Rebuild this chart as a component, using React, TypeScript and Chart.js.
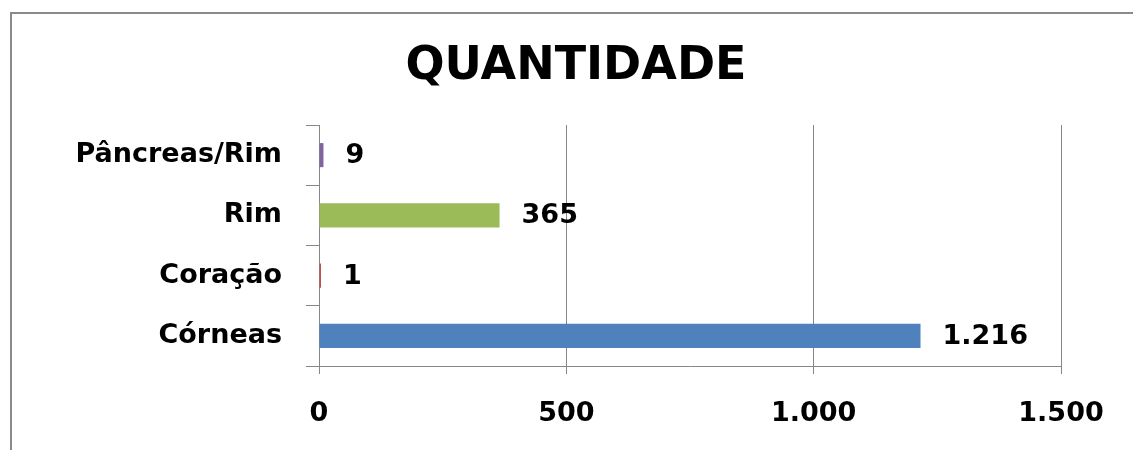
import React, { useEffect, useRef } from "react";
import { Chart, registerables } from "chart.js";

Chart.register(...registerables);

const categories = ["Córneas", "Coração", "Rim", "Pâncreas/Rim"];
const values = [1216, 1, 365, 9];
const barColors = ["#4F81BD", "#C0504D", "#9BBB59", "#8064A2"];
const titleText = "QUANTIDADE";
const xMin = 0;
const xMax = 1500;
const xStep = 500;

const FONT = "'DejaVu Sans', sans-serif";

function fmt(v: number): string {
  const s = Math.round(v).toString();
  return s.replace(/\B(?=(\d{3})+(?!\d))/g, ".");
}

const valueLabels = {
  id: "valueLabels",
  afterDatasetsDraw(chart: any) {
    const ctx = chart.ctx;
    const meta = chart.getDatasetMeta(0);
    ctx.save();
    ctx.font = `bold 27px ${FONT}`;
    ctx.fillStyle = "#000";
    ctx.textAlign = "left";
    ctx.textBaseline = "middle";
    meta.data.forEach((bar: any, i: number) => {
      ctx.fillText(fmt(values[i]), bar.x + 22, bar.y + 1);
    });
    ctx.restore();
  },
};

const centeredTitle = {
  id: "centeredTitle",
  afterDraw(chart: any) {
    const ctx = chart.ctx;
    ctx.save();
    ctx.font = `bold 46px ${FONT}`;
    ctx.fillStyle = "#000";
    ctx.textAlign = "center";
    ctx.textBaseline = "alphabetic";
    ctx.fillText(titleText, 576, 79);
    ctx.restore();
  },
};

export default function App() {
  const ref = useRef<HTMLCanvasElement | null>(null);
  useEffect(() => {
    if (!ref.current) return;
    const chart = new Chart(ref.current, {
      type: "bar",
      data: {
        labels: categories,
        datasets: [
          {
            data: values,
            backgroundColor: barColors,
            borderWidth: 0,
            barPercentage: 0.8,
            categoryPercentage: 0.5,
            minBarLength: 2,
          },
        ],
      },
      options: {
        indexAxis: "y",
        animation: false,
        responsive: false,
        maintainAspectRatio: false,
        layout: { padding: { left: 0, right: 72, top: 125, bottom: 0 } },
        plugins: {
          legend: { display: false },
          tooltip: { enabled: false },
          title: { display: false },
        },
        scales: {
          x: {
            min: xMin,
            max: xMax,
            ticks: {
              stepSize: xStep,
              color: "#000",
              font: { family: FONT, size: 27, weight: "bold" },
              padding: 24,
              maxRotation: 0,
              callback: (v: any) => fmt(Number(v)),
            },
            grid: {
              color: "#878787",
              lineWidth: 1,
              tickLength: 8,
              drawTicks: true,
            },
            border: { color: "#878787", width: 1 },
            afterFit: (s: any) => {
              s.height = 84;
            },
          },
          y: {
            reverse: true,
            ticks: {
              color: "#000",
              font: { family: FONT, size: 27, weight: "bold" },
              padding: 24,
            },
            grid: {
              drawOnChartArea: false,
              drawTicks: true,
              tickLength: 13,
              color: "#878787",
              offset: true,
            },
            border: { color: "#878787", width: 1 },
            afterFit: (s: any) => {
              s.width = 319;
            },
          },
        },
      },
      plugins: [valueLabels, centeredTitle],
    });
    return () => chart.destroy();
  }, []);

  return (
    <div style={{ position: "fixed", left: 0, top: 0, width: 1133, height: 450, background: "#fff", overflow: "hidden" }}>
      <div
        style={{
          position: "absolute",
          left: 10,
          top: 12,
          width: 1200,
          height: 500,
          border: "2px solid #8a8a8a",
          boxSizing: "border-box",
        }}
      />
      <canvas ref={ref} width={1133} height={450} style={{ position: "absolute", left: 0, top: 0, display: "block" }} />
    </div>
  );
}
